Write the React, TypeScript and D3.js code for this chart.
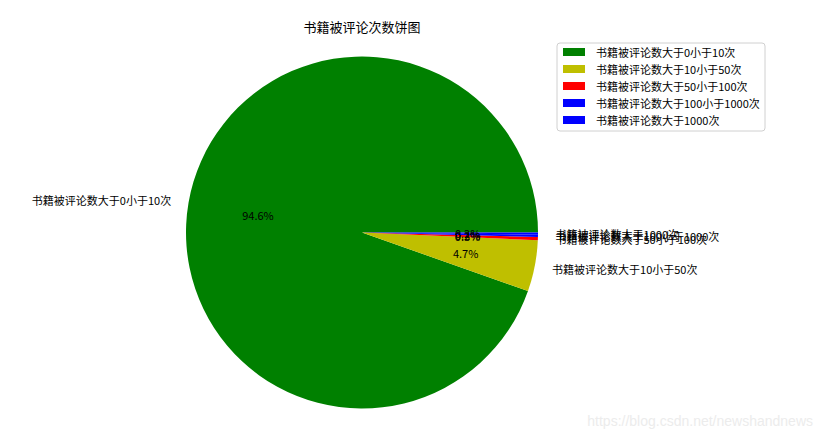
import React, { useEffect, useRef } from 'react';
import * as d3 from 'd3';

const categories = [
  '书籍被评论数大于0小于10次',
  '书籍被评论数大于10小于50次',
  '书籍被评论数大于50小于100次',
  '书籍被评论数大于100小于1000次',
  '书籍被评论数大于1000次',
];
const shares = [94.6, 4.7, 0.3, 0.2, 0.2];
const colors = ['#008000', '#bfbf00', '#ff0000', '#0000ff', '#0000ff'];
const title = '书籍被评论次数饼图';
const watermark = 'https://blog.csdn.net/newshandnews';

const FONT = '"Noto Sans CJK SC", "DejaVu Sans", sans-serif';

const PieChart: React.FC<{ width?: number; height?: number }> = ({ width = 822, height = 437 }) => {
  const svgRef = useRef<SVGSVGElement>(null);

  useEffect(() => {
    if (!svgRef.current) return;
    const svg = d3.select(svgRef.current);
    svg.selectAll('*').remove();

    const cx = 362;
    const cy = 232.5;
    const r = 176;

    svg.append('rect').attr('width', width).attr('height', height).attr('fill', '#fff');

    // matplotlib style: counter-clockwise from 3 o'clock
    const pie = d3
      .pie<number>()
      .sort(null)
      .startAngle(Math.PI / 2)
      .endAngle(Math.PI / 2 - 2 * Math.PI);
    const arcs = pie(shares);

    const arc = d3.arc<d3.PieArcDatum<number>>().innerRadius(0).outerRadius(r);
    const labelArc = d3.arc<d3.PieArcDatum<number>>().innerRadius(r * 1.1).outerRadius(r * 1.1);
    const pctArc = d3.arc<d3.PieArcDatum<number>>().innerRadius(r * 0.6).outerRadius(r * 0.6);

    const g = svg.append('g').attr('transform', `translate(${cx},${cy})`);

    g.selectAll('path')
      .data(arcs)
      .enter()
      .append('path')
      .attr('d', arc)
      .attr('fill', (_, i) => colors[i]);

    g.selectAll('.label')
      .data(arcs)
      .enter()
      .append('text')
      .attr('class', 'label')
      .attr('x', d => labelArc.centroid(d)[0])
      .attr('y', d => labelArc.centroid(d)[1])
      .attr('text-anchor', d => (labelArc.centroid(d)[0] < 0 ? 'end' : 'start'))
      .attr('dominant-baseline', 'central')
      .style('font-family', FONT)
      .style('font-size', '11px')
      .attr('fill', '#000')
      .text((_, i) => categories[i]);

    g.selectAll('.pct')
      .data(arcs)
      .enter()
      .append('text')
      .attr('class', 'pct')
      .attr('x', d => pctArc.centroid(d)[0])
      .attr('y', d => pctArc.centroid(d)[1])
      .attr('text-anchor', 'middle')
      .attr('dominant-baseline', 'central')
      .style('font-family', FONT)
      .style('font-size', '11px')
      .attr('fill', '#000')
      .text(d => `${d.data.toFixed(1)}%`);

    // Title
    svg
      .append('text')
      .attr('x', cx)
      .attr('y', 26)
      .attr('text-anchor', 'middle')
      .attr('dominant-baseline', 'central')
      .style('font-family', FONT)
      .style('font-size', '13px')
      .attr('fill', '#000')
      .text(title);

    // Legend
    const lg = svg.append('g').attr('transform', 'translate(557,43)');
    lg.append('rect')
      .attr('width', 208)
      .attr('height', 88)
      .attr('rx', 3)
      .attr('fill', '#fff')
      .attr('stroke', '#d0d0d0');
    const rows = lg
      .selectAll('.row')
      .data(categories)
      .enter()
      .append('g')
      .attr('transform', (_, i) => `translate(0,${9 + i * 17})`);
    rows
      .append('rect')
      .attr('x', 6)
      .attr('y', -4)
      .attr('width', 22)
      .attr('height', 8)
      .attr('fill', (_, i) => colors[i]);
    rows
      .append('text')
      .attr('x', 39)
      .attr('y', 0)
      .attr('dominant-baseline', 'central')
      .style('font-family', FONT)
      .style('font-size', '11px')
      .attr('fill', '#000')
      .text(d => d);

    // Watermark
    svg
      .append('text')
      .attr('x', 813)
      .attr('y', 421)
      .attr('text-anchor', 'end')
      .attr('dominant-baseline', 'central')
      .style('font-family', '"Liberation Sans", Arial, sans-serif')
      .style('font-size', '14px')
      .attr('fill', '#ececec')
      .text(watermark);
  }, [width, height]);

  return <svg ref={svgRef} width={width} height={height} style={{ display: 'block' }} />;
};

export default function App() {
  return (
    <div style={{ margin: -8 }}>
      <PieChart />
    </div>
  );
}
